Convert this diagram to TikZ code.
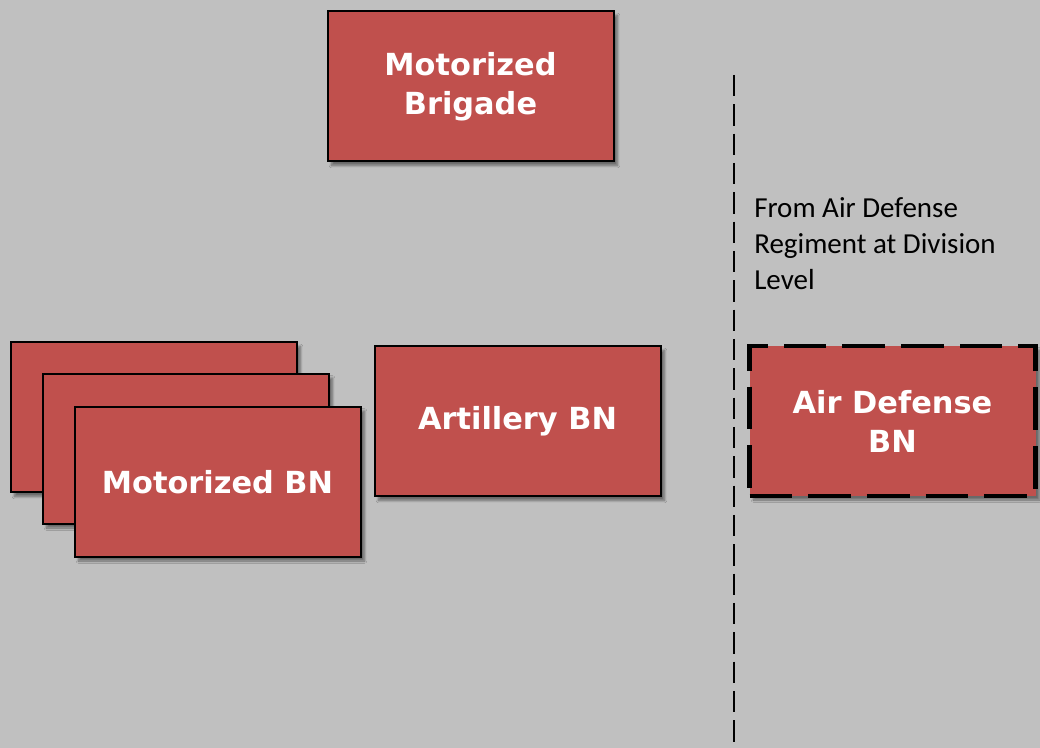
\documentclass[tikz,border=0pt]{standalone}
\usepackage{fontspec}
\newfontfamily\unitfont{DejaVu Sans}
\newfontfamily\notefont{Carlito}
\usetikzlibrary{shadows.blur}
\definecolor{unitred}{RGB}{192,80,77}
\definecolor{bggray}{RGB}{192,192,192}
\begin{document}
\begin{tikzpicture}[x=0.75pt,y=-0.75pt]
	\tikzstyle{every node}=[font=\unitfont\bfseries\fontsize{22.8}{29.25}\selectfont]
	\tikzstyle{unit}=[draw=black, line width=1.5pt, fill=unitred, text=white, minimum width=214.5pt, minimum height=112.5pt, align=center, blur shadow={shadow xshift=3pt, shadow yshift=-3pt, shadow blur steps=8, shadow opacity=45}]
	
	% background
	\fill [bggray] (0,0) rectangle (1040,748);
	\useasboundingbox (0,0) rectangle (1040,748);
	
	\node [unit] (brigade) at (470.5,86.5) {Motorized\\Brigade};
	
	% stacked battalions
	\node [unit] (mbnA) at (153.5,417.5) {};
	\node [unit] (mbnB) at (185.5,449) {};
	\node [unit] (mbnC) at (217.5,482) {Motorized BN};
	
	\node [unit] (artillery) at (517.5,421.5) {Artillery BN};
	
	% attached from division
	\coordinate (divtop) at (734,75);
	\coordinate (divbottom) at (734,745);
	\draw [line width=1.5pt, dash pattern=on 16pt off 6pt] (divtop) -- (divbottom);
	\node [font=\notefont\fontsize{21.75}{27}\selectfont, anchor=north west, align=left, inner sep=0pt] (note) at (754,197) {From Air Defense\\Regiment at Division\\Level};
	
	\node [unit, line width=3.4pt, dash pattern=on 32pt off 12pt] (airdef) at (892.5,421) {Air Defense\\BN};
\end{tikzpicture}
\end{document}
